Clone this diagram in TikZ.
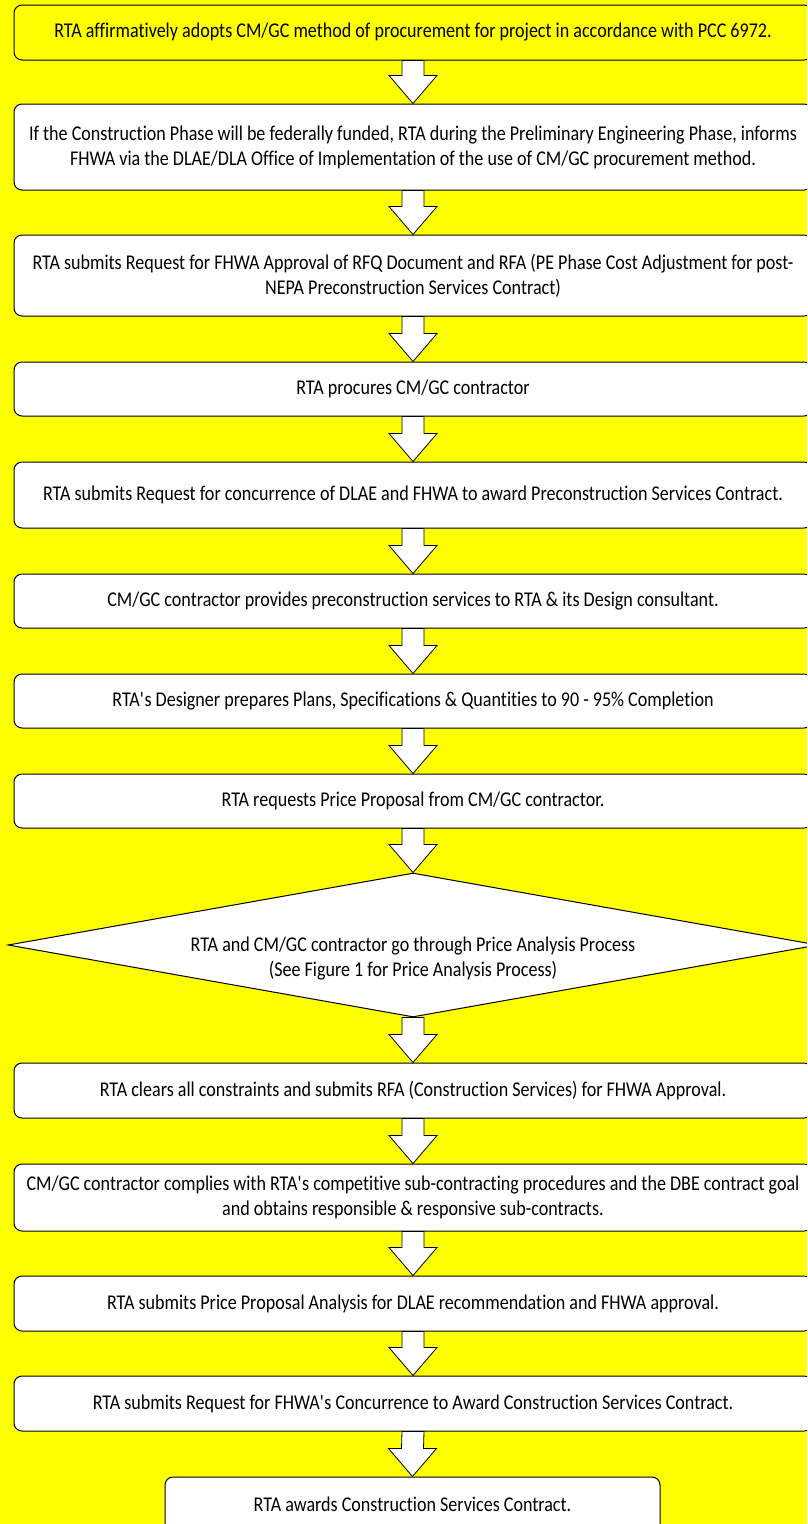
\documentclass[tikz,border=0pt]{standalone}
\usepackage{fontspec}
\setmainfont{Carlito}[FakeStretch=0.86, Ligatures={NoCommon}]
\usetikzlibrary{calc,shapes.geometric}

\definecolor{bgyellow}{RGB}{255,255,0}
\tikzset{
  stepbox/.style={draw, line width=1pt, rounded corners=8pt, fill=white,
    minimum width=798pt, align=center, inner sep=2pt,
    font=\fontsize{21}{25}\selectfont},
  decision/.style={draw, line width=1pt, diamond, fill=white, aspect=5.6,
    minimum width=810pt, minimum height=144pt, inner sep=0pt},
  blockarrow/.style={draw, line width=0.8pt, fill=white}
}
% hollow block arrow from the bottom of #1 to the top of #2
\newcommand{\downarr}[2]{%
  \draw[blockarrow] ($(#1.south)+(-11,0)$) -- ($(#2.north)+(-11,-28)$)
    -- ($(#2.north)+(-24,-28)$) -- (#2.north) -- ($(#2.north)+(24,-28)$)
    -- ($(#2.north)+(11,-28)$) -- ($(#1.south)+(11,0)$) -- cycle;}

\begin{document}
\begin{tikzpicture}[x=1pt,y=-1pt]
        \useasboundingbox (0,0) rectangle (807,1524);
        \clip (0,0) rectangle (807,1524);
        \fill[bgyellow] (0,0) rectangle (807,1524);

        % steps, top to bottom
        \node[stepbox, fill=bgyellow, minimum height=55pt] (s1) at (413,32.5)
          {RTA affirmatively adopts CM/GC method of procurement for project in accordance with PCC 6972.};
        \node[stepbox, minimum height=86pt] (s2) at (413,147)
          {If the Construction Phase will be federally funded, RTA during the Preliminary Engineering Phase, informs\\FHWA via the DLAE/DLA Office of Implementation of the use of CM/GC procurement method.};
        \node[stepbox, minimum height=81pt] (s3) at (413,275.5)
          {RTA submits Request for FHWA Approval of RFQ Document and RFA (PE Phase Cost Adjustment for post-\\NEPA Preconstruction Services Contract)};
        \node[stepbox, minimum height=54pt] (s4) at (413,389)
          {RTA procures CM/GC contractor};
        \node[stepbox, minimum height=66pt] (s5) at (413,495)
          {RTA submits Request for concurrence of DLAE and FHWA to award Preconstruction Services Contract.};
        \node[stepbox, minimum height=54pt] (s6) at (413,601)
          {CM/GC contractor provides preconstruction services to RTA \& its Design consultant.};
        \node[stepbox, minimum height=54pt] (s7) at (413,701)
          {RTA\textquotesingle s Designer prepares Plans, Specifications \& Quantities to 90 - 95\% Completion};
        \node[stepbox, minimum height=54pt] (s8) at (413,801)
          {RTA requests Price Proposal from CM/GC contractor.};

        % price analysis
        \node[decision] (pa) at (413,945) {};
        \node[font=\fontsize{21}{25}\selectfont, align=center] (patext) at ($(pa.center)+(0,14)$)
          {RTA and CM/GC contractor go through Price Analysis Process\\(See Figure 1 for Price Analysis Process)};

        \node[stepbox, minimum height=55pt] (s9) at (413,1090.5)
          {RTA clears all constraints and submits RFA (Construction Services) for FHWA Approval.};
        \node[stepbox, minimum height=67pt] (s10) at (413,1197.5)
          {CM/GC contractor complies with RTA\textquotesingle s competitive sub-contracting procedures and the DBE contract goal\\and obtains responsible \& responsive sub-contracts.};
        \node[stepbox, minimum height=55pt] (s11) at (413,1303.5)
          {RTA submits Price Proposal Analysis for DLAE recommendation and FHWA approval.};
        \node[stepbox, minimum height=55pt] (s12) at (413,1403.5)
          {RTA submits Request for FHWA\textquotesingle s Concurrence to Award Construction Services Contract.};
        \node[stepbox, minimum height=55pt, minimum width=495pt] (s13) at (412.5,1504.5)
          {RTA awards Construction Services Contract.};

        % arrows
        \downarr{s1}{s2}
        \downarr{s2}{s3}
        \downarr{s3}{s4}
        \downarr{s4}{s5}
        \downarr{s5}{s6}
        \downarr{s6}{s7}
        \downarr{s7}{s8}
        \downarr{s8}{pa}
        \downarr{pa}{s9}
        \downarr{s9}{s10}
        \downarr{s10}{s11}
        \downarr{s11}{s12}
        \downarr{s12}{s13}

    \end{tikzpicture}
\end{document}
